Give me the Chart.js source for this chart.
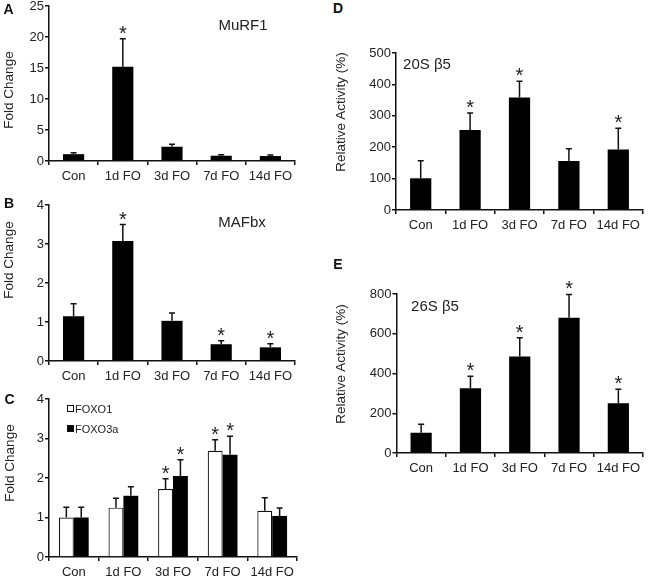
<!DOCTYPE html>
<html>
<head>
<meta charset="utf-8">
<script src="https://cdn.jsdelivr.net/npm/chart.js@4"></script>
<style>
body{margin:0;background:#fff;width:649px;height:583px;position:relative;overflow:hidden;font-family:"Liberation Sans",Arial,sans-serif;color:#222}
canvas{position:absolute}
.t{position:absolute;transform:translate(-50%,-50%);white-space:nowrap;line-height:1}
.letter{font-weight:bold;font-size:14px;color:#111}
.name{font-size:15px}
.ytitle{font-size:13.5px;transform:translate(-50%,-50%) rotate(-90deg)}
.leg{position:absolute;font-size:11px;line-height:1;white-space:nowrap}
.leg i{display:inline-block;width:5px;height:5px;border:1px solid #111;margin-right:1px;vertical-align:1px}
</style>
</head>
<body>
<canvas id="cA" width="310" height="200" style="left:0;top:-10px"></canvas>
<canvas id="cB" width="310" height="195" style="left:0;top:190px"></canvas>
<canvas id="cC" width="310" height="198" style="left:0;top:385px"></canvas>
<canvas id="cD" width="318" height="215" style="left:331px;top:30px"></canvas>
<canvas id="cE" width="318" height="210" style="left:331px;top:270px"></canvas>

<div class="t letter" style="left:8.5px;top:9px">A</div>
<div class="t letter" style="left:9px;top:203px">B</div>
<div class="t letter" style="left:9.5px;top:399px">C</div>
<div class="t letter" style="left:338px;top:8px">D</div>
<div class="t letter" style="left:338px;top:264px">E</div>

<div class="t name" style="left:243px;top:24px">MuRF1</div>
<div class="t name" style="left:242px;top:221px">MAFbx</div>
<div class="t name" style="left:427px;top:63px">20S β5</div>
<div class="t name" style="left:435px;top:305px">26S β5</div>

<div class="t ytitle" style="left:9px;top:90px">Fold Change</div>
<div class="t ytitle" style="left:9px;top:260px">Fold Change</div>
<div class="t ytitle" style="left:10px;top:463px">Fold Change</div>
<div class="t ytitle" style="left:341px;top:112px">Relative Activity (%)</div>
<div class="t ytitle" style="left:341px;top:364px">Relative Activity (%)</div>

<div id="legend"></div>

<script>
// Data
const categories = ['Con', '1d FO', '3d FO', '7d FO', '14d FO'];

const murf1 = [1.1, 15.2, 2.3, 0.85, 0.8];
const murf1Sd = [0.25, 4.5, 0.4, 0.15, 0.15];
const murf1Sig = [0, 1, 0, 0, 0];

const mafbx = [1.15, 3.08, 1.03, 0.43, 0.35];
const mafbxSd = [0.32, 0.42, 0.2, 0.09, 0.09];
const mafbxSig = [0, 1, 0, 1, 1];

const foxoNames = ['FOXO1', 'FOXO3a'];
const foxo1 = [1.0, 1.25, 1.72, 2.69, 1.17];
const foxo1Sd = [0.26, 0.24, 0.26, 0.28, 0.33];
const foxo1Sig = [0, 0, 1, 1, 0];
const foxo3a = [1.0, 1.55, 2.05, 2.59, 1.04];
const foxo3aSd = [0.26, 0.23, 0.41, 0.47, 0.2];
const foxo3aSig = [0, 0, 1, 1, 0];

const p20s = [101, 255, 358, 156, 193];
const p20sSd = [56, 54, 52, 39, 67];
const p20sSig = [0, 1, 1, 0, 1];

const p26s = [102, 326, 485, 680, 250];
const p26sSd = [43, 60, 95, 118, 71];
const p26sSig = [0, 1, 1, 1, 1];

Chart.defaults.font.family = '"Liberation Sans", Arial, sans-serif';
Chart.defaults.color = '#222';

// error bars + significance stars
function errorPlugin(sds, sigs) {
    return {
        id: 'errs',
        afterDatasetsDraw(chart) {
            const ctx = chart.ctx;
            const y = chart.scales.y;
            chart.data.datasets.forEach((ds, di) => {
                const meta = chart.getDatasetMeta(di);
                meta.data.forEach((bar, i) => {
                    const v = ds.data[i];
                    const base = y.getPixelForValue(v);
                    const top = y.getPixelForValue(v + sds[di][i]);
                    ctx.save();
                    ctx.strokeStyle = '#111';
                    ctx.lineWidth = 1.5;
                    ctx.beginPath();
                    ctx.moveTo(bar.x, base);
                    ctx.lineTo(bar.x, top);
                    ctx.moveTo(bar.x - 3, top);
                    ctx.lineTo(bar.x + 3, top);
                    ctx.stroke();
                    if (sigs[di][i]) {
                        ctx.fillStyle = '#222';
                        ctx.font = '20px "Liberation Sans", Arial, sans-serif';
                        ctx.textAlign = 'center';
                        ctx.textBaseline = 'alphabetic';
                        ctx.fillText('*', bar.x, top + 1);
                    }
                    ctx.restore();
                });
            });
        }
    };
}

// box: canvas position, plot: wanted chart area (page coords)
function panel(id, box, plot, datasets, yMax, yStep, sds, sigs, catPct, barPct) {
    new Chart(document.getElementById(id), {
        type: 'bar',
        data: { labels: categories, datasets: datasets },
        options: {
            responsive: false,
            animation: false,
            layout: {
                padding: { top: plot.t - box.top, right: box.left + box.width - plot.r, left: 0, bottom: 0 }
            },
            plugins: { legend: { display: false }, tooltip: { enabled: false } },
            datasets: { bar: { categoryPercentage: catPct, barPercentage: barPct } },
            scales: {
                x: {
                    grid: { drawOnChartArea: false, drawTicks: true, tickLength: 4, color: '#111', lineWidth: 1.5, offset: true },
                    border: { color: '#111', width: 1.5 },
                    ticks: { font: { size: 13 }, padding: 4, maxRotation: 0, autoSkip: false },
                    afterFit: s => { s.height = box.top + box.height - plot.b; }
                },
                y: {
                    min: 0,
                    max: yMax,
                    grid: { drawOnChartArea: false, drawTicks: true, tickLength: 4, color: '#111', lineWidth: 1.5 },
                    border: { color: '#111', width: 1.5 },
                    ticks: { stepSize: yStep, font: { size: 13 }, padding: 1 },
                    afterFit: s => { s.width = plot.l - box.left; }
                }
            }
        },
        plugins: [errorPlugin(sds, sigs)]
    });
}

const black = { backgroundColor: '#000', borderWidth: 0 };

panel('cA', { left: 0, top: -10, width: 310, height: 200 }, { l: 49, t: 6, r: 295, b: 161 },
    [{ label: 'MuRF1', data: murf1, ...black }], 25, 5, [murf1Sd], [murf1Sig], 1, 0.43);

panel('cB', { left: 0, top: 190, width: 310, height: 195 }, { l: 49, t: 205, r: 295, b: 361 },
    [{ label: 'MAFbx', data: mafbx, ...black }], 4, 1, [mafbxSd], [mafbxSig], 1, 0.43);

panel('cC', { left: 0, top: 385, width: 310, height: 198 }, { l: 49, t: 399, r: 297, b: 557 },
    [
        { label: foxoNames[0], data: foxo1, backgroundColor: '#fff', borderColor: '#111', borderWidth: 1.2, borderSkipped: 'bottom' },
        { label: foxoNames[1], data: foxo3a, ...black }
    ], 4, 1, [foxo1Sd, foxo3aSd], [foxo1Sig, foxo3aSig], 0.6, 1);

panel('cD', { left: 331, top: 30, width: 318, height: 215 }, { l: 396, t: 53, r: 643, b: 210 },
    [{ label: '20S β5', data: p20s, ...black }], 500, 100, [p20sSd], [p20sSig], 1, 0.43);

panel('cE', { left: 331, top: 270, width: 318, height: 210 }, { l: 396.5, t: 294, r: 643, b: 453 },
    [{ label: '26S β5', data: p26s, ...black }], 800, 200, [p26sSd], [p26sSig], 1, 0.43);

// legend for panel C
const legend = document.getElementById('legend');
const legFill = ['#fff', '#000'];
foxoNames.forEach((name, i) => {
    const row = document.createElement('div');
    row.className = 'leg';
    row.style.left = '67px';
    row.style.top = (404 + i * 20) + 'px';
    row.innerHTML = '<i style="background:' + legFill[i] + '"></i>' + name;
    legend.appendChild(row);
});
</script>
</body>
</html>
